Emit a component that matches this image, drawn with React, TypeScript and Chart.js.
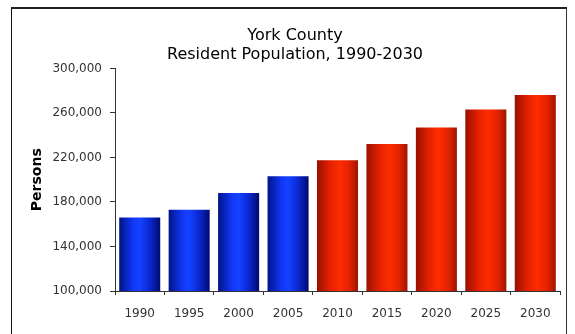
import React, { useEffect, useRef } from 'react';
import { Chart, registerables } from 'chart.js';

Chart.register(...registerables);

const years = ['1990', '1995', '2000', '2005', '2010', '2015', '2020', '2025', '2030'];
const population = [166000, 173000, 188000, 203000, 217500, 232000, 247000, 263000, 276000];
const isProjection = [false, false, false, false, true, true, true, true, true];
const titleLines = ['York County', 'Resident Population, 1990-2030'];
const yAxisTitle = 'Persons';
const yMin = 100000;
const yMax = 300000;
const yStep = 40000;

const blueStops: [number, string][] = [
  [0, '#001488'],
  [0.35, '#1238f8'],
  [0.5, '#1442ff'],
  [0.75, '#0a28d0'],
  [1, '#000a6e'],
];
const redStops: [number, string][] = [
  [0, '#981000'],
  [0.3, '#e02000'],
  [0.55, '#ff2c00'],
  [0.8, '#e02200'],
  [1, '#a01400'],
];

const cylinderPlugin = {
  id: 'cylinderBars',
  beforeDatasetsDraw(chart: any) {
    const ctx = chart.ctx;
    chart.getDatasetMeta(0).data.forEach((bar: any, i: number) => {
      const { x, width } = bar.getProps(['x', 'width'], true);
      const l = x - width / 2;
      const g = ctx.createLinearGradient(l, 0, l + width, 0);
      (isProjection[i] ? redStops : blueStops).forEach(([o, c]) => g.addColorStop(o, c));
      bar.options = Object.assign({}, bar.options, { backgroundColor: g });
    });
  },
};

const tickFont = { family: 'DejaVu Sans', size: 12 };

export default function App() {
  const ref = useRef<HTMLCanvasElement>(null);
  useEffect(() => {
    if (!ref.current) return;
    const chart = new Chart(ref.current, {
      type: 'bar',
      data: {
        labels: years,
        datasets: [
          {
            data: population,
            backgroundColor: isProjection.map((p) => (p ? '#ff2a00' : '#1238f8')),
            borderWidth: 0,
            barPercentage: 0.83,
            categoryPercentage: 1,
          },
        ],
      },
      options: {
        responsive: false,
        animation: false,
        layout: { padding: { left: 30, right: 15, top: 0, bottom: 0 } },
        plugins: {
          legend: { display: false },
          tooltip: { enabled: false },
          title: {
            display: true,
            text: titleLines,
            color: '#000',
            font: { family: 'DejaVu Sans', size: 16, weight: 'normal', lineHeight: 1.2 },
            padding: { top: 26.5, bottom: 3.5 },
          },
        },
        scales: {
          x: {
            grid: { display: true, drawOnChartArea: false, drawTicks: true, tickLength: 4, color: '#333', offset: true },
            border: { display: true, color: '#333', width: 1 },
            ticks: { color: '#333', font: tickFont, padding: 12, maxRotation: 0 },
            afterFit: (s: any) => {
              s.height = 43;
            },
          },
          y: {
            min: yMin,
            max: yMax,
            ticks: {
              stepSize: yStep,
              color: '#333',
              font: tickFont,
              padding: 8,
              callback: (v: any) => Number(v).toLocaleString('en-US'),
            },
            grid: { drawOnChartArea: false, drawTicks: true, tickLength: 5, color: '#333' },
            border: { display: true, color: '#333', width: 1 },
            title: {
              display: true,
              text: yAxisTitle,
              color: '#000',
              font: { family: 'DejaVu Sans', size: 14, weight: 'bold', lineHeight: 1 },
              padding: { top: 0, bottom: 0 },
            },
            afterFit: (s: any) => {
              s.width = 85;
            },
          },
        },
      },
      plugins: [cylinderPlugin],
    });
    return () => chart.destroy();
  }, []);

  return (
    <div style={{ position: 'fixed', left: 0, top: 0, width: 575, height: 334, background: '#fff', overflow: 'hidden' }}>
      <canvas ref={ref} width={575} height={334} style={{ display: 'block', position: 'absolute', left: 0, top: 0 }} />
      <div
        style={{
          position: 'absolute',
          left: 11,
          top: 7,
          width: 554,
          height: 340,
          borderTop: '2px solid #222',
          borderLeft: '1px solid #111',
          borderRight: '1px solid #333',
          pointerEvents: 'none',
        }}
      />
    </div>
  );
}
